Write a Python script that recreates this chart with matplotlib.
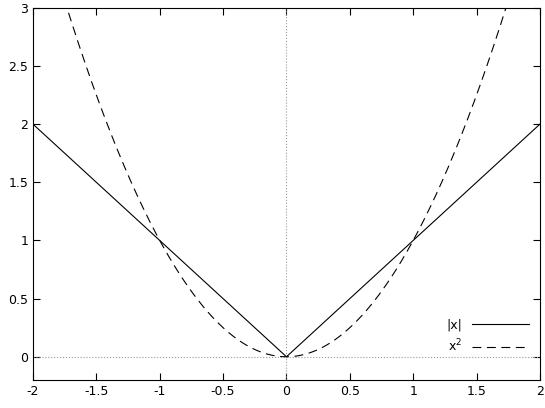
import numpy as np
import matplotlib.pyplot as plt

# x range and curves
x_min, x_max = -2.0, 2.0
y_min, y_max = -0.2, 3.0
x_ticks = [-2, -1.5, -1, -0.5, 0, 0.5, 1, 1.5, 2]
y_ticks = [0, 0.5, 1, 1.5, 2, 2.5, 3]
x_abs = [-2, 0, 2]
y_abs = [2, 0, 2]
x = np.linspace(x_min, x_max, 401)

fig = plt.figure(figsize=(5.45, 4.08), dpi=100)
ax = fig.add_axes([0.0606, 0.0686, 0.930, 0.912])

ax.axhline(0, color='#999999', linestyle=':', linewidth=0.8)
ax.axvline(0, color='#999999', linestyle=':', linewidth=0.8)

ax.plot(x_abs, y_abs, color='black', linewidth=0.8, label='|x|')
ax.plot(x, x ** 2, color='black', linewidth=0.8, dashes=(8, 5), label='x$^2$')

ax.set_xlim(x_min, x_max)
ax.set_ylim(y_min, y_max)
ax.set_xticks(x_ticks)
ax.set_xticklabels([f'{t:g}' for t in x_ticks])
ax.set_yticks(y_ticks)
ax.set_yticklabels([f'{t:g}' for t in y_ticks])
ax.tick_params(direction='in', top=True, right=True, labelsize=9, length=5)
for s in ax.spines.values():
    s.set_linewidth(0.8)

ax.legend(loc='lower right', frameon=False, markerfirst=False, fontsize=9,
          handlelength=4.5, bbox_to_anchor=(1.0, 0.04))

fig.savefig('out.png', dpi=100)
